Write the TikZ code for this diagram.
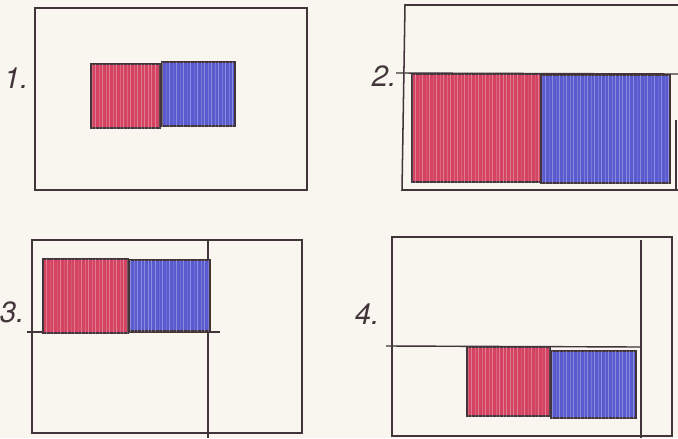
\documentclass[tikz,border=0pt]{standalone}
\usepackage{fontspec}
\setsansfont{TeX Gyre Heros}
\usetikzlibrary{patterns}

\definecolor{paper}{RGB}{248,246,238}
\definecolor{pen}{RGB}{66,52,58}
\definecolor{redfill}{RGB}{205,35,70}
\definecolor{bluefill}{RGB}{62,62,200}

\begin{document}
\begin{tikzpicture}
    [x=0.3mm, y=-0.3mm,
    frame/.style={draw=pen, line width=1.3pt},
    guide/.style={draw=pen, line width=1.2pt},
    streaks/.style={postaction={pattern=vertical lines, pattern color=white, opacity=0.3}},
    redbox/.style={draw=pen, line width=1.3pt, fill=redfill!85, streaks},
    bluebox/.style={draw=pen, line width=1.3pt, fill=bluefill!85, streaks},
    number/.style={font=\sffamily\itshape\fontsize{25}{25}\selectfont, text=pen, inner sep=0pt}]
        \fill[paper] (0,0) rectangle (678,438);
        \useasboundingbox (0,0) rectangle (678,438);
        % Panel 1
        \node[number] (N1) at (16,78) {1.};
        \draw[frame] (35,8) rectangle (307,190);
        \draw[redbox] (91,64) rectangle (160,128);
        \draw[bluebox] (162,62) rectangle (235,126);
        % Panel 2
        \node[number] (N2) at (384,76) {2.};
        \draw[frame] (678,5) -- (405,5) -- (402,190) -- (678,190);
        \draw[frame] (676,120) -- (676,190);
        \draw[guide] (396,73) -- (678,74);
        \draw[redbox] (412,74) rectangle (541,182);
        \draw[bluebox] (541,75) rectangle (670,183);
        % Panel 3
        \node[number] (N3) at (12,312) {3.};
        \draw[frame] (32,240) rectangle (302,433);
        \draw[guide] (208,240) -- (208,438);
        \draw[guide] (27,332) -- (220,332);
        \draw[redbox] (43,259) rectangle (128,333);
        \draw[bluebox] (129,260) rectangle (210,331);
        % Panel 4
        \node[number] (N4) at (367,314) {4.};
        \draw[frame] (392,237) rectangle (672,436);
        \draw[guide] (641,240) -- (641,438);
        \draw[guide] (386,346) -- (640,347);
        \draw[redbox] (467,347) rectangle (550,416);
        \draw[bluebox] (551,351) rectangle (636,418);
    \end{tikzpicture}
\end{document}
